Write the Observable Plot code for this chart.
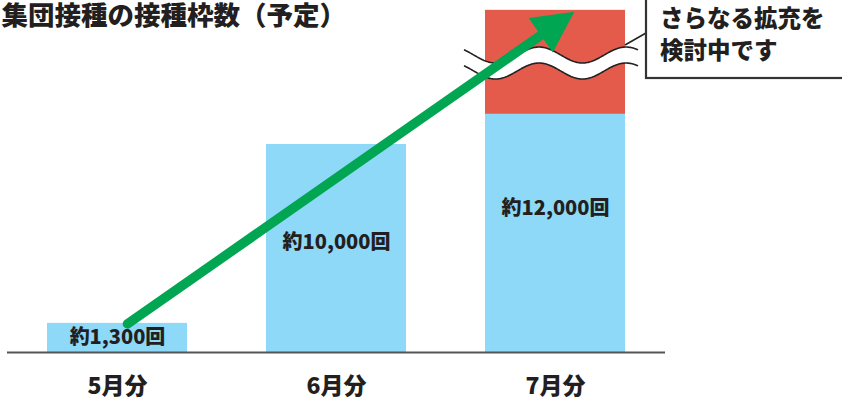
<!DOCTYPE html>
<html><head><meta charset="utf-8">
<script src="https://cdn.jsdelivr.net/npm/d3@7"></script>
<script src="https://cdn.jsdelivr.net/npm/@observablehq/plot@0.6"></script>
<style>
body{margin:0;background:#fff;}
#chart{position:relative;width:842px;height:407px;overflow:hidden;}
</style></head><body><div id="chart"></div>
<script>
const categories = ["5月分", "6月分", "7月分"];
const barValues = [1400, 10000, 11450];      // blue bar heights
const extensionValues = [0, 0, 5000];         // red "further expansion" segment
const barLabels = ["約1,300回", "約10,000回", "約12,000回"];
const title = "集団接種の接種枠数（予定）";
const calloutLines = ["さらなる拡充を", "検討中です"];

const FONT = "'Noto Sans CJK JP', 'Noto Sans', sans-serif";
const INK = "#231f20";
const BLUE = "#8ed8f8";
const RED = "#e55b4b";
const GREEN = "#00a651";
const W = 900;

const rows = categories.map((c, i) => ({c, v: barValues[i], e: extensionValues[i], label: barLabels[i]}));
const ext = rows.filter(d => d.e > 0).map(d => ({c: d.c, y1: d.v, y2: d.v + d.e}));
const labelDy = [0, -6, -25];

const plot = Plot.plot({
  width: 842, height: 407,
  marginLeft: 7, marginRight: 177, marginTop: 0, marginBottom: 55,
  style: {fontFamily: FONT, background: "#fff"},
  x: {domain: categories, paddingInner: 0.359, paddingOuter: 0.1795, axis: null},
  y: {domain: [0, 16923], axis: null},
  marks: [
    Plot.barY(rows, {x: "c", y: "v", fill: BLUE, inset: 0}),
    Plot.barY(ext, {x: "c", y1: "y1", y2: "y2", fill: RED, inset: 0}),
    Plot.ruleY([0], {stroke: "#555", strokeWidth: 2}),
    ...rows.map((d, i) => Plot.text([d], {x: "c", y: r => r.v / 2, text: "label", dy: labelDy[i],
      fontSize: 20, fontWeight: W, fill: INK, lineAnchor: "middle"})),
    Plot.text(categories, {x: d => d, y: 0, dy: 34, text: d => d, fontSize: 23, fontWeight: W, fill: INK, lineAnchor: "middle"}),
    Plot.text([title], {frameAnchor: "top-left", dx: -6, dy: 16, text: d => d, fontSize: 26.5, fontWeight: W, fill: INK, lineAnchor: "middle", textAnchor: "start"})
  ]
});
document.getElementById("chart").appendChild(plot);

const svg = d3.select(plot);
const xs = plot.scale("x"), ys = plot.scale("y");
const X = v => xs.apply(v), Y = v => ys.apply(v), bw = xs.bandwidth;

// axis-break wave over the 7月 bar
const x7 = X("7月分");
const wx0 = x7 - 21, wx1 = x7 + bw + 13, crest = x7 + 54, period = 87;
const wc = Y(13894);
const up = d3.range(wx0, wx1 + 0.01, 1).map(x => [x, wc - 8 - 8 * Math.cos(2 * Math.PI * (x - crest) / period)]);
const lo = up.map(([x, y]) => [x, y + 16]);
const line = d3.line();
const g = svg.append("g");
g.append("path").attr("d", line(up.concat(lo.slice().reverse())) + "Z").attr("fill", "#fff");
g.append("path").attr("d", line(up)).attr("fill", "none").attr("stroke", "#222").attr("stroke-width", 1.6);
g.append("path").attr("d", line(lo)).attr("fill", "none").attr("stroke", "#222").attr("stroke-width", 1.6);

// green arrow from 5月 bar to top of 7月
const sx = X("5月分") + bw * 0.575, sy = Y(barValues[0]) + 1;
const tx = x7 + bw * 0.638, ty = Y(barValues[2] + extensionValues[2]) + 2;
const L = Math.hypot(tx - sx, ty - sy), ux = (tx - sx) / L, uy = (ty - sy) / L;
const hl = 41, hw = 21;
const bx = tx - hl * ux, by = ty - hl * uy;
const a = svg.append("g");
a.append("line").attr("x1", sx).attr("y1", sy).attr("x2", bx + 4 * ux).attr("y2", by + 4 * uy)
  .attr("stroke", GREEN).attr("stroke-width", 9.5).attr("stroke-linecap", "round");
a.append("path").attr("d", line([[tx, ty], [bx - hw * uy, by + hw * ux], [bx + hw * uy, by - hw * ux]]) + "Z").attr("fill", GREEN);

// callout
const cx0 = x7 + bw + 21;
const c = svg.append("g");
c.append("line").attr("x1", x7 + bw).attr("y1", 45).attr("x2", cx0).attr("y2", 33).attr("stroke", "#222").attr("stroke-width", 1.6);
c.append("rect").attr("x", cx0).attr("y", -10).attr("width", 220).attr("height", 88)
  .attr("fill", "#fff").attr("stroke", "#333").attr("stroke-width", 2.2);
calloutLines.forEach((t, i) => {
  c.append("text").attr("x", cx0 + 14).attr("y", 19 + i * 32).attr("dy", "0.35em")
    .attr("text-anchor", "start")
    .attr("font-size", 23.5).attr("font-weight", W).attr("fill", INK).attr("font-family", FONT).text(t);
});
</script></body></html>
